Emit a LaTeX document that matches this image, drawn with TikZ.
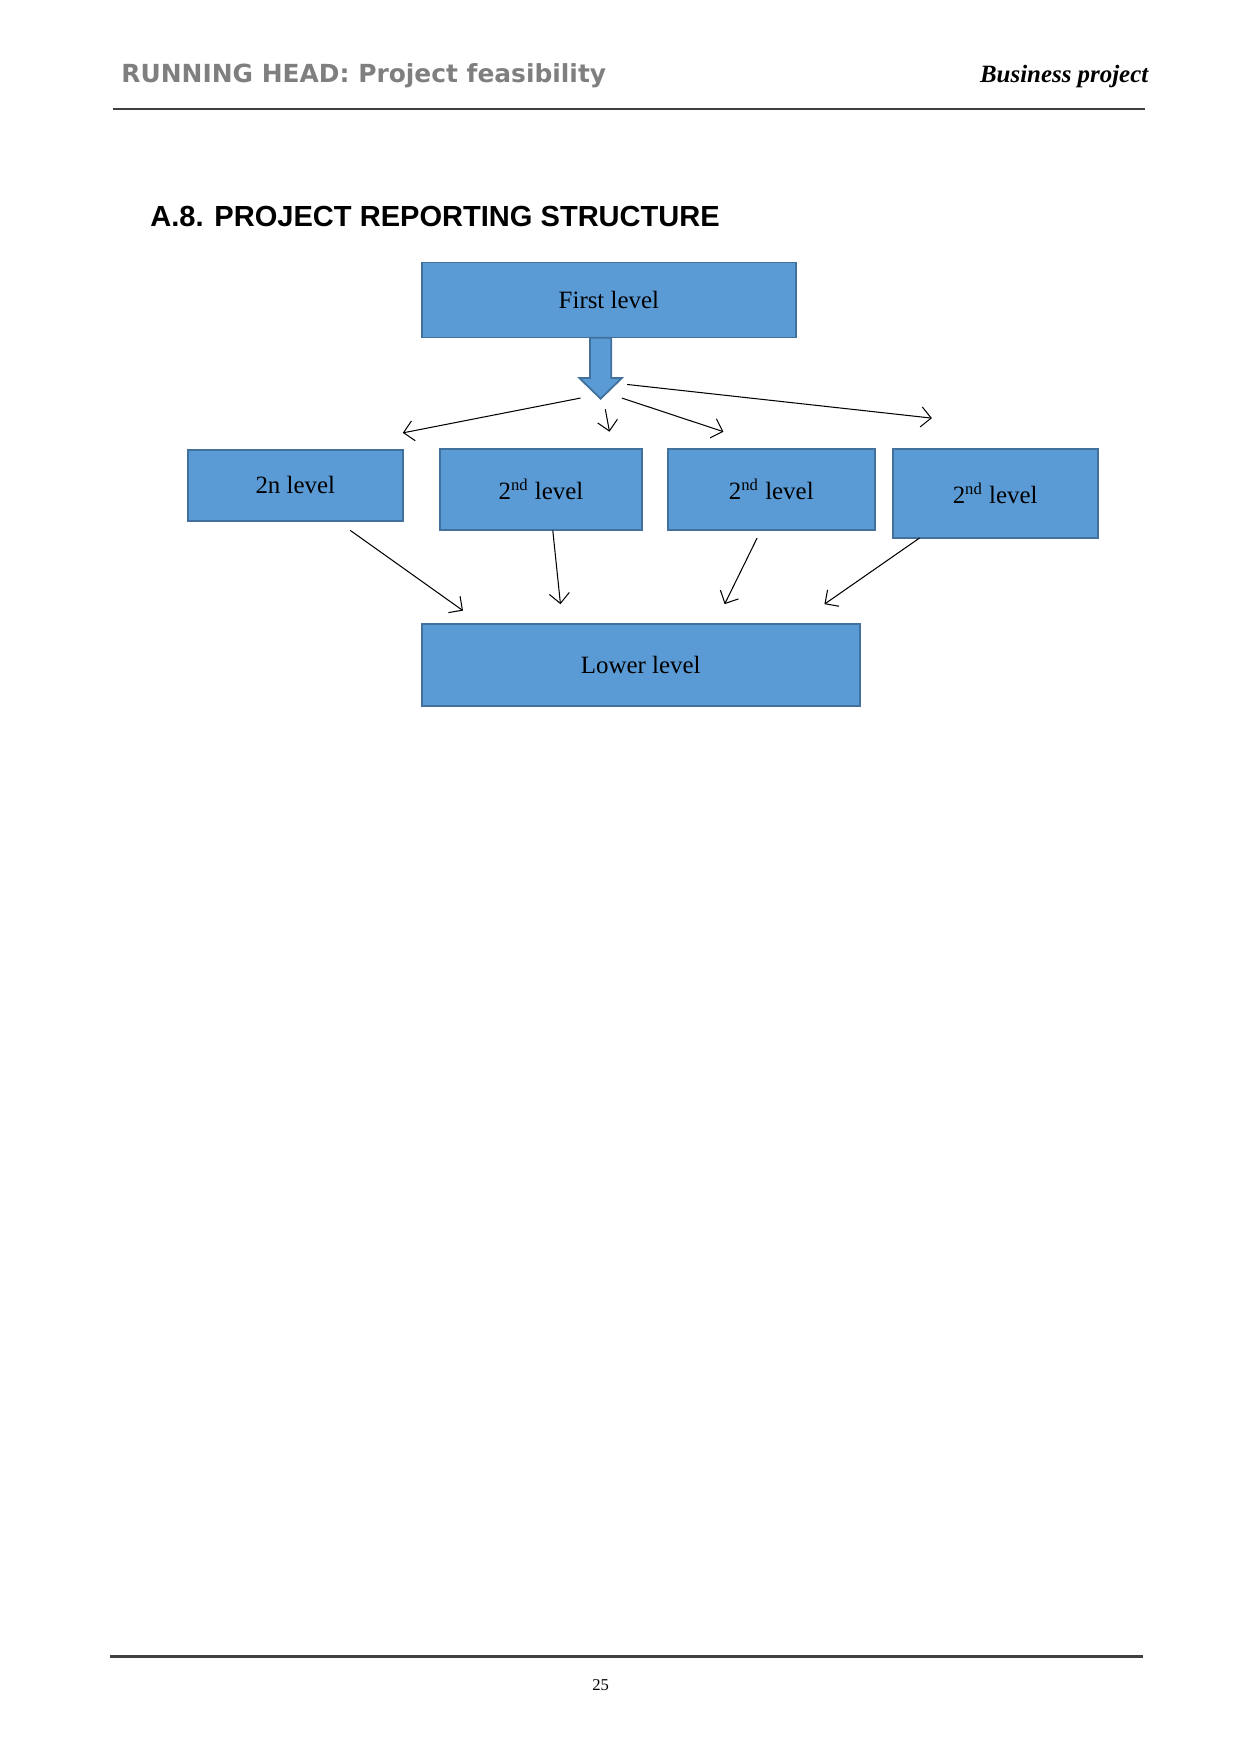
\documentclass[tikz,border=0pt]{standalone}
\usepackage{fontspec}
\setmainfont{Liberation Serif}
\newfontfamily\headfont{DejaVu Sans}
\newfontfamily\titlefont{Liberation Sans}
\usepackage{tikz}
\usetikzlibrary{positioning,arrows.meta,calc}

\definecolor{boxblue}{HTML}{5B9BD5}
\definecolor{boxedge}{HTML}{41719C}
\definecolor{headgray}{HTML}{7F7F7F}

\begin{document}
\begin{tikzpicture}[
    font=\fontsize{12}{14}\selectfont,
    levelbox/.style={draw=boxedge, fill=boxblue, line width=0.9pt, inner sep=0pt},
    arr/.style={-{Straight Barb[length=1.7mm,width=3.4mm]}, line width=0.5pt}
]

% page frame (A4)
\useasboundingbox (0,0) rectangle (21,-29.7);

% ── HEADER ──────────────────────────────────────────────
\node[anchor=base west, font=\headfont\bfseries\fontsize{12}{14}\selectfont, text=headgray, inner sep=0pt]
    (runhead) at (2.05,-1.40) {RUNNING HEAD: Project feasibility};
\node[anchor=base east, font=\bfseries\itshape\fontsize{12}{14}\selectfont, inner sep=0pt]
    (bizhead) at (19.45,-1.40) {Business project};
\draw[line width=1.1pt, black!75] (1.91,-1.84) -- (19.39,-1.84);

% Title
\node[anchor=base west, font=\titlefont\bfseries\fontsize{14}{17}\selectfont, inner sep=0pt]
    (title) at (2.54,-3.84) {A.8. PROJECT REPORTING STRUCTURE};

% ── BOXES ───────────────────────────────────────────────
\node[levelbox, minimum width=6.34cm, minimum height=1.27cm] (first) at (10.31,-5.08) {First level};

\node[levelbox, minimum width=3.64cm, minimum height=1.21cm] (lvA) at (5.00,-8.22) {2n level};
\node[levelbox, minimum width=3.43cm, minimum height=1.37cm] (lvB) at (9.16,-8.29) {2\textsuperscript{nd} level};
\node[levelbox, minimum width=3.51cm, minimum height=1.37cm] (lvC) at (13.06,-8.29) {2\textsuperscript{nd} level};
\node[levelbox, minimum width=3.47cm, minimum height=1.50cm] (lvD) at (16.85,-8.36) {2\textsuperscript{nd} level};

\node[levelbox, minimum width=7.42cm, minimum height=1.38cm] (lower) at (10.85,-11.26) {Lower level};

% Block arrow under the first level
\draw[levelbox] (9.99,-5.72) -- (9.99,-6.40) -- (9.81,-6.40) -- (10.17,-6.75)
    -- (10.53,-6.40) -- (10.35,-6.40) -- (10.35,-5.72) -- cycle;

% ── ARROWS: first level -> 2nd level ────────────────────
\coordinate (t1s) at (9.83,-6.74);   \coordinate (t1e) at (6.82,-7.33);
\coordinate (t2s) at (10.25,-6.93);  \coordinate (t2e) at (10.32,-7.31);
\coordinate (t3s) at (10.53,-6.74);  \coordinate (t3e) at (12.25,-7.31);
\coordinate (t4s) at (10.62,-6.51);  \coordinate (t4e) at (15.78,-7.08);

% ── ARROWS: 2nd level -> lower level ────────────────────
\coordinate (b1s) at (5.93,-8.98);   \coordinate (b1e) at (7.84,-10.34);
\coordinate (b2s) at (9.36,-8.98);   \coordinate (b2e) at (9.49,-10.23);
\coordinate (b3s) at (12.82,-9.11);  \coordinate (b3e) at (12.27,-10.23);
\coordinate (b4s) at (15.57,-9.11);  \coordinate (b4e) at (13.96,-10.23);

\foreach \k in {t1,t2,t3,t4,b1,b2,b3,b4} {
    \draw[arr] (\k s) -- (\k e);
}

% ── FOOTER ──────────────────────────────────────────────
\draw[line width=1.1pt, black!75] (1.86,-28.05) -- (19.35,-28.05);
\node[anchor=base, font=\fontsize{8}{10}\selectfont, inner sep=0pt] (pagenum) at (10.17,-28.63) {25};

\end{tikzpicture}
\end{document}
